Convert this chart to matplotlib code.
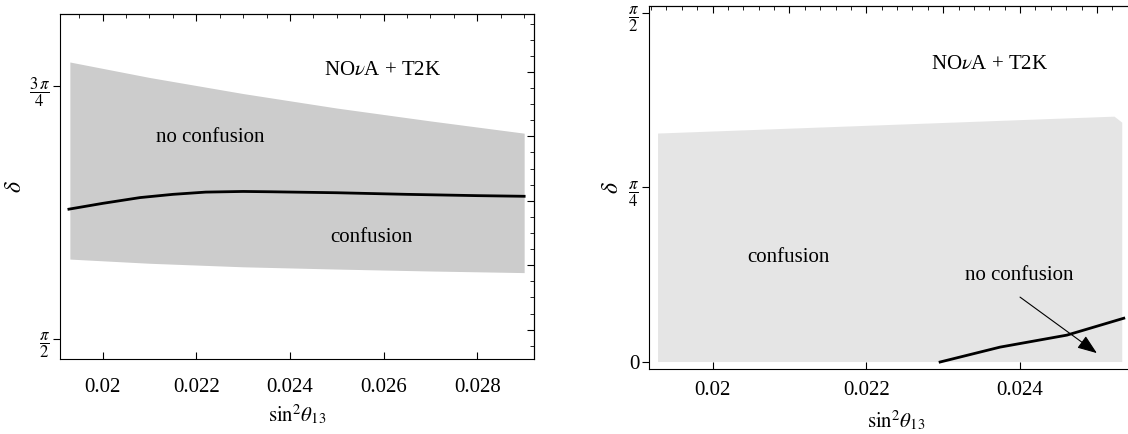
import numpy as np
import matplotlib
matplotlib.use("Agg")
from matplotlib import pyplot as plt
from matplotlib.ticker import MultipleLocator, NullFormatter

plt.rcParams['font.family'] = ['Liberation Serif', 'DejaVu Serif']
plt.rcParams['mathtext.fontset'] = 'stix'

# left panel: band edges and boundary curve
band_x = [0.0193, 0.021, 0.023, 0.025, 0.027, 0.029]
band_top = [2.431, 2.383, 2.333, 2.288, 2.248, 2.210]
band_bot = [1.819, 1.806, 1.795, 1.788, 1.782, 1.777]
line_x = [0.01928, 0.0200, 0.0208, 0.0215, 0.0222, 0.0230, 0.0236, 0.0250, 0.0265, 0.0280, 0.0290]
line_y = [1.974, 1.992, 2.010, 2.020, 2.027, 2.029, 2.028, 2.025, 2.020, 2.016, 2.014]

# right panel: region outline and boundary curve
reg_x = [0.01929, 0.01929, 0.02523, 0.02533, 0.02533]
reg_y = [0.0, 1.028, 1.104, 1.077, 0.0]
line2_x = [0.02296, 0.02374, 0.02461, 0.02535]
line2_y = [0.0, 0.067, 0.121, 0.197]

fs = 15
fs_tick = 15
fs_frac = 12

fig = plt.figure(figsize=(11.28, 4.34), dpi=100)

# ---- left panel
ax1 = fig.add_axes([0.0532, 0.1728, 0.4202, 0.7949])
ax1.fill_between(band_x, band_bot, band_top, color='#cccccc', lw=0)
ax1.plot(line_x, line_y, color='black', lw=2)
ax1.set_xlim(0.01909, 0.02921)
ax1.set_ylim(1.5087, 2.580)
ax1.set_xticks([0.02, 0.022, 0.024, 0.026, 0.028])
ax1.set_xticklabels(['0.02', '0.022', '0.024', '0.026', '0.028'], fontsize=fs_tick)
ax1.set_yticks([np.pi / 2, 3 * np.pi / 4])
ax1.set_yticklabels([r'$\dfrac{\pi}{2}$', r'$\dfrac{3\,\pi}{4}$'], fontsize=fs_frac)
ax1.tick_params(axis='x', direction='in', length=5, top=False, pad=14)
ax1.tick_params(axis='y', direction='out', length=5, right=False, pad=2)
ax1.set_xlabel(r'$\mathrm{sin}^2\theta_{13}$', fontsize=fs)
ax1.set_ylabel(r'$\delta$', fontsize=fs + 2)
ax1.yaxis.set_label_coords(-0.072, 0.5)
top1 = ax1.secondary_xaxis('top')
top1.xaxis.set_major_locator(MultipleLocator(0.002))
top1.xaxis.set_minor_locator(MultipleLocator(0.0005))
top1.xaxis.set_major_formatter(NullFormatter())
top1.tick_params(which='both', direction='in')
top1.tick_params(which='major', length=5)
top1.tick_params(which='minor', length=3)
right1 = ax1.secondary_yaxis('right')
right1.yaxis.set_major_locator(MultipleLocator(0.2))
right1.yaxis.set_minor_locator(MultipleLocator(0.05))
right1.yaxis.set_major_formatter(NullFormatter())
right1.tick_params(which='both', direction='in')
right1.tick_params(which='major', length=5)
right1.tick_params(which='minor', length=3)
ax1.text(0.02598, 2.405, r'NO$\nu$A + T2K', fontsize=fs, ha='center', va='center')
ax1.text(0.02229, 2.198, 'no confusion', fontsize=fs, ha='center', va='center')
ax1.text(0.02573, 1.887, 'confusion', fontsize=fs, ha='center', va='center')

# ---- right panel (runs past the right edge of the figure)
ax2 = fig.add_axes([0.5754, 0.1498, 0.4379, 0.8364])
ax2.fill(reg_x, reg_y, color='#e5e5e5', lw=0)
ax2.plot(line2_x, line2_y, color='black', lw=2)
ax2.set_xlim(0.019173, 0.0256)
ax2.set_ylim(-0.0314, 1.602)
ax2.set_xticks([0.02, 0.022, 0.024])
ax2.set_xticklabels(['0.02', '0.022', '0.024'], fontsize=fs_tick)
ax2.set_yticks([0, np.pi / 4, np.pi / 2])
ax2.set_yticklabels(['0', r'$\dfrac{\pi}{4}$', r'$\dfrac{\pi}{2}$'], fontsize=fs_frac)
ax2.get_yticklabels()[0].set_fontsize(fs_tick)
ax2.tick_params(axis='x', direction='in', length=5, top=False, pad=9)
ax2.tick_params(axis='y', direction='out', length=5, right=False, pad=2)
ax2.spines['right'].set_visible(False)
ax2.set_xlabel(r'$\mathrm{sin}^2\theta_{13}$', fontsize=fs, labelpad=6)
ax2.set_ylabel(r'$\delta$', fontsize=fs + 2)
top2 = ax2.secondary_xaxis('top')
top2.xaxis.set_major_locator(MultipleLocator(0.001))
top2.xaxis.set_minor_locator(MultipleLocator(0.0002))
top2.xaxis.set_major_formatter(NullFormatter())
top2.tick_params(which='both', direction='in')
top2.tick_params(which='major', length=5)
top2.tick_params(which='minor', length=3)
ax2.text(0.0236, 1.337, r'NO$\nu$A + T2K', fontsize=fs, ha='center', va='center')
ax2.text(0.02099, 0.471, 'confusion', fontsize=fs, ha='center', va='center')
ax2.text(0.02399, 0.390, 'no confusion', fontsize=fs, ha='center', va='center')
ax2.annotate('', xy=(0.0250, 0.040), xytext=(0.0240, 0.292),
             arrowprops=dict(arrowstyle='-|>,head_length=1.2,head_width=0.45',
                             color='black', lw=0.8, shrinkA=0, shrinkB=0))

fig.savefig('out.png', dpi=100)
